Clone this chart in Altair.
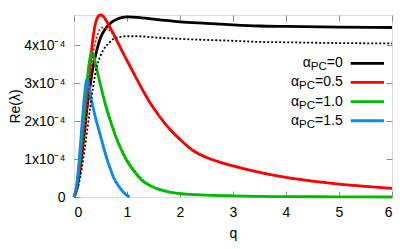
import altair as alt
import pandas as pd

# ---------------- data (Re(lambda) in units of 1e-4) ----------------
q_black = [0, 0.05, 0.1, 0.15, 0.2, 0.24, 0.3, 0.36, 0.43, 0.5, 0.6, 0.7, 0.8, 0.9, 1.0, 1.2, 1.5, 2.0, 2.5, 3.0, 3.5, 4.0, 5.0, 6.0]
re_black = [0, 0.2, 0.6, 1.15, 1.75, 2.28, 2.9, 3.43, 3.87, 4.2, 4.45, 4.6, 4.68, 4.73, 4.75, 4.74, 4.69, 4.62, 4.58, 4.54, 4.51, 4.5, 4.48, 4.47]

q_black_dot = [0, 0.1, 0.2, 0.3, 0.36, 0.43, 0.5, 0.55, 0.65, 0.74, 0.85, 1.0, 1.2, 1.5, 2.0, 3.0, 3.5, 4.0, 5.0, 6.0]
re_black_dot = [0, 0.4, 1.25, 2.3, 2.9, 3.43, 3.72, 3.87, 4.05, 4.17, 4.22, 4.24, 4.24, 4.21, 4.17, 4.12, 4.09, 4.08, 4.06, 4.05]

q_red = [0, 0.05, 0.1, 0.15, 0.2, 0.25, 0.3, 0.35, 0.4, 0.45, 0.5, 0.55, 0.6, 0.7, 0.8, 0.9, 1.0, 1.15, 1.3, 1.45, 1.6, 1.8, 2.0, 2.25, 2.5, 2.75, 3.0, 3.5, 4.0, 4.5, 5.0, 5.5, 6.0]
re_red = [0, 0.25, 0.8, 1.5, 2.2, 2.75, 3.45, 4.1, 4.55, 4.75, 4.8, 4.77, 4.67, 4.42, 4.15, 3.87, 3.6, 3.2, 2.81, 2.45, 2.15, 1.8, 1.52, 1.22, 1.04, 0.92, 0.82, 0.65, 0.52, 0.42, 0.34, 0.28, 0.23]

q_red_dot = [0, 0.1, 0.2, 0.3, 0.36, 0.43, 0.49, 0.55, 0.62, 0.7, 0.8, 1.0, 1.3, 1.6, 2.0, 2.5, 3.0, 4.0, 5.0, 6.0]
re_red_dot = [0, 0.6, 1.7, 3.1, 3.78, 4.22, 4.42, 4.47, 4.44, 4.36, 4.12, 3.6, 2.81, 2.15, 1.52, 1.04, 0.82, 0.52, 0.34, 0.23]

q_green = [0, 0.05, 0.1, 0.15, 0.2, 0.25, 0.3, 0.33, 0.37, 0.42, 0.5, 0.6, 0.7, 0.8, 0.9, 1.0, 1.15, 1.3, 1.45, 1.6, 1.8, 2.0, 2.5, 3.0, 4.0, 5.0, 6.0]
re_green = [0, 0.25, 0.85, 1.6, 2.4, 3.1, 3.65, 3.82, 3.72, 3.42, 2.95, 2.4, 1.95, 1.55, 1.22, 0.95, 0.65, 0.42, 0.29, 0.2, 0.13, 0.09, 0.05, 0.03, 0.01, 0.005, 0.0]
re_green_dot = [0, 0.22, 0.8, 1.55, 2.35, 3.05, 3.62, 3.8, 3.74, 3.46, 3.0, 2.46, 2.0, 1.6, 1.27, 1.0, 0.69, 0.45, 0.31, 0.22, 0.14, 0.1, 0.05, 0.03, 0.01, 0.005, 0.0]

q_blue = [0, 0.05, 0.1, 0.15, 0.2, 0.24, 0.28, 0.33, 0.4, 0.49, 0.6, 0.675, 0.75, 0.86, 0.95, 1.05]
re_blue = [0, 0.3, 1.0, 1.9, 2.7, 3.1, 2.95, 2.55, 2.12, 1.66, 1.1, 0.78, 0.5, 0.25, 0.1, 0.0]
re_blue_dot = [0, 0.27, 0.95, 1.85, 2.65, 3.08, 2.97, 2.6, 2.17, 1.71, 1.15, 0.82, 0.54, 0.28, 0.12, 0.01]

series_names = ["a0", "a05", "a10", "a15"]
series_colors = ["#000000", "#ff0000", "#00bb00", "#0a88ff"]
legend_values = ["=0", "=0.5", "=1.0", "=1.5"]
x_ticks = [0, 1, 2, 3, 4, 5, 6]
y_ticks = [0, 1, 2, 3, 4]

# ---------------- layout ----------------
W, H = 318, 182
FONT = "Liberation Sans"
GRAY = "#8c8c8c"


def mk(q, v, name):
    return pd.DataFrame({"q": q, "re": v, "series": name})


solid = pd.concat([
    mk(q_black, re_black, "a0"),
    mk(q_red, re_red, "a05"),
    mk(q_green, re_green, "a10"),
    mk(q_blue, re_blue, "a15"),
], ignore_index=True)

dotted = pd.concat([
    mk(q_black_dot, re_black_dot, "a0"),
    mk(q_red_dot, re_red_dot, "a05"),
    mk(q_green, re_green_dot, "a10"),
    mk(q_blue, re_blue_dot, "a15"),
], ignore_index=True)

xscale = alt.Scale(domain=[0, 6], nice=False, zero=False)
yscale = alt.Scale(domain=[0, 4.8], nice=False, zero=False)
cscale = alt.Scale(domain=series_names, range=series_colors)

ylabel_expr = "datum.value == 0 ? '0' : format(datum.value, 'd') + 'x10\u207b\u2074'"

solid_layer = alt.Chart(solid).mark_line(strokeWidth=2.8, interpolate="monotone").encode(
    x=alt.X("q:Q", scale=xscale, axis=alt.Axis(
        orient="bottom", values=x_ticks, ticks=False, domain=False, grid=False,
        labelPadding=8, labelFontSize=14, labelFont=FONT, labelColor="black",
        title="q", titleFontSize=14, titleFont=FONT, titleFontWeight="normal",
        titleColor="black", titlePadding=7)),
    y=alt.Y("re:Q", scale=yscale, axis=alt.Axis(
        orient="left", values=y_ticks, ticks=False, domain=False, grid=False,
        labelExpr=ylabel_expr, labelPadding=9, labelFontSize=14, labelFont=FONT,
        labelColor="black", title="Re(\u03bb)", titleFontSize=14, titleFont=FONT,
        titleFontWeight="normal", titleColor="black", titlePadding=1)),
    color=alt.Color("series:N", scale=cscale, legend=None),
    detail="series:N",
)

dotted_layer = alt.Chart(dotted).mark_line(strokeWidth=1.8, strokeDash=[2, 2], interpolate="monotone").encode(
    x=alt.X("q:Q", scale=xscale, axis=None),
    y=alt.Y("re:Q", scale=yscale, axis=None),
    color=alt.Color("series:N", scale=cscale, legend=None),
    detail="series:N",
)


def tick_axis(orient, offset, vals):
    return alt.Axis(orient=orient, offset=offset, values=vals, ticks=True, tickSize=6,
                    tickColor=GRAY, tickWidth=1, labels=False, domain=False, grid=False, title="")


ticks_a = alt.Chart(mk(q_black, re_black, "a0")).mark_point(opacity=0).encode(
    x=alt.X("q:Q", scale=xscale, axis=tick_axis("top", -H, x_ticks)),
    y=alt.Y("re:Q", scale=yscale, axis=tick_axis("right", -W, y_ticks)),
)
ticks_b = alt.Chart(mk(q_black, re_black, "a0")).mark_point(opacity=0).encode(
    x=alt.X("q:Q", scale=xscale, axis=tick_axis("bottom", -H, x_ticks)),
    y=alt.Y("re:Q", scale=yscale, axis=tick_axis("left", -W, y_ticks)),
)

# ---------------- manual key (gnuplot style: text, then line sample) ----------------
adv = {'=': 0.584, '0': 0.556, '1': 0.556, '5': 0.556, '.': 0.278, 'P': 0.667, 'C': 0.722}
MAIN, SUB = 14, 11.5
text_right = 268.7
row0, row_step = 48.3, 19.15
rows = []
for i, (val, col) in enumerate(zip(legend_values, series_colors)):
    w_rest = sum(adv[c] for c in val) * MAIN
    w_sub = (adv['P'] + adv['C']) * SUB
    y = row0 + row_step * i
    rows.append({"piece": "alpha", "txt": "\u03b1", "px": text_right - w_rest - w_sub, "py": y, "color": col})
    rows.append({"piece": "sub", "txt": "PC", "px": text_right - w_rest, "py": y + 4, "color": col})
    rows.append({"piece": "rest", "txt": val, "px": text_right, "py": y, "color": col})
key_df = pd.DataFrame(rows)

key_main = alt.Chart(key_df).transform_filter("datum.piece != 'sub'").mark_text(
    align="right", baseline="middle", fontSize=MAIN, font=FONT, color="black").encode(
    x=alt.X("px:Q", scale=None, axis=None),
    y=alt.Y("py:Q", scale=None, axis=None),
    text="txt:N",
)
key_sub = alt.Chart(key_df).transform_filter("datum.piece == 'sub'").mark_text(
    align="right", baseline="middle", fontSize=SUB, font=FONT, color="black").encode(
    x=alt.X("px:Q", scale=None, axis=None),
    y=alt.Y("py:Q", scale=None, axis=None),
    text="txt:N",
)
key_line_df = key_df[key_df.piece == "rest"].copy()
key_line_df["x1"] = 276.7
key_line_df["x2"] = 310.0
key_lines = alt.Chart(key_line_df).mark_rule(strokeWidth=2.8).encode(
    x=alt.X("x1:Q", scale=None, axis=None),
    x2="x2:Q",
    y=alt.Y("py:Q", scale=None, axis=None),
    color=alt.Color("color:N", scale=None, legend=None),
)

chart = alt.layer(
    solid_layer, dotted_layer, ticks_a, ticks_b, key_lines, key_main, key_sub
).resolve_axis(x="independent", y="independent").properties(
    width=W, height=H,
    autosize=alt.AutoSizeParams(type="none"),
    padding={"left": 66, "top": 7, "right": 15, "bottom": 44},
).configure_view(stroke=GRAY, strokeWidth=1).configure(background="white")

chart.save("out.html", embed_options={"renderer": "svg", "actions": False})
